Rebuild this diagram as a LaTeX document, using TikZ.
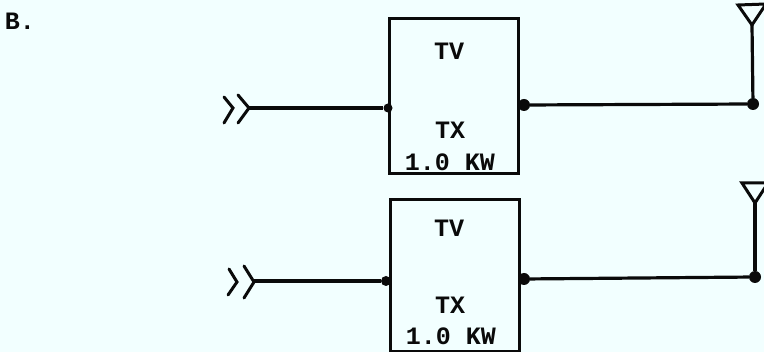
\documentclass[tikz,border=0pt]{standalone}
\usepackage{fontspec}
\setmainfont{Liberation Mono}
\definecolor{paper}{HTML}{F2FFFF}
\definecolor{ink}{HTML}{0A0A0A}
\tikzset{
  x=1pt,y=-1pt,
  wire/.style={draw=ink,line width=3.2pt},
  txbox/.style={draw=ink,line width=3pt,rectangle,inner sep=0pt,minimum width=129pt,anchor=north west},
  label/.style={text=ink,font=\fontsize{25}{25}\selectfont\bfseries,inner sep=0pt},
  dot/.style={circle,fill=ink,inner sep=0pt,minimum size=12pt},
  chev/.style={draw=ink,line width=3pt,line cap=round,line join=miter},
  ant/.style={draw=ink,line width=3pt,line join=miter}
}
\begin{document}
\begin{tikzpicture}
\useasboundingbox[fill=paper] (0,0) rectangle (764,352);
\node[label] (b) at (20,21) {B.};
% upper transmitter
\node[txbox,minimum height=155pt] (tx1) at (388,17) {};
\node[label] (tv1t) at (449,51) {TV};
\node[label] (tx1t) at (450,130) {TX};
\node[label] (kw1t) at (450,162) {1.0 KW};
\node[dot,minimum size=9pt] (in1d) at (388,108) {};
\node[dot] (out1d) at (524,105) {};
\node[dot] (a1d) at (753,104) {};
\coordinate (in1) at (249,108);
\coordinate (a1) at (752,25);
\draw[chev] (224,97) -- (233,108) -- (224,123);
\draw[chev] (238,95) -- (249,108) -- (238,123);
\draw[wire] (in1) -- (in1d);
\draw[wire] (out1d) -- (a1d);
\draw[wire] (a1d) -- (a1);
\draw[ant] (a1) -- (738,5) -- (766,4) -- cycle;
% lower transmitter
\node[txbox,minimum height=152pt] (tx2) at (389,198) {};
\node[label] (tv2t) at (449,228) {TV};
\node[label] (tx2t) at (450,305) {TX};
\node[label] (kw2t) at (451,336) {1.0 KW};
\node[dot,minimum size=10pt] (in2d) at (386,281) {};
\node[dot] (out2d) at (524,279) {};
\node[dot] (a2d) at (755,277) {};
\coordinate (in2) at (254,281);
\coordinate (a2) at (755,203);
\draw[chev] (229,269) -- (237,282) -- (228,295);
\draw[chev] (244,266) -- (254,282) -- (244,298);
\draw[wire] (in2) -- (in2d);
\draw[wire] (out2d) -- (a2d);
\draw[wire] (a2d) -- (a2);
\draw[ant] (a2) -- (742,183) -- (768,183) -- cycle;
\end{tikzpicture}
\end{document}
